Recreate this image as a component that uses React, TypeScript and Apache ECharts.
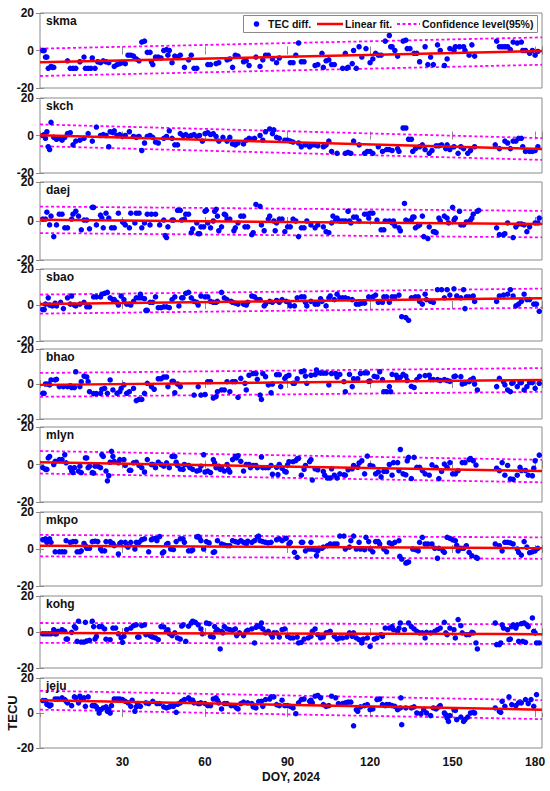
import React, { useEffect, useRef } from "react";
import * as echarts from "echarts";

const FONT = "'Liberation Sans', Arial, Helvetica, sans-serif";

const stations = ["skma", "skch", "daej", "sbao", "bhao", "mlyn", "mkpo", "kohg", "jeju"];

// [DOY, TEC difference (TECU)]
const skma = [[1,0],[1.5,0],[2,-3.5],[2.5,-3.5],[3,-9.5],[4,-8.5],[4.5,-9],[5,-9],[10,-5.5],[11,-9.5],[12,-9.5],[13,-9.5],[14.5,-6],[16,-3.5],[16.5,-9.5],[17.5,-9.5],[18.5,-9.5],[19,-4],[20,-9.5],[21,-6],[22,-6.5],[23,-5.5],[24,-6],[25,-6.5],[27,-8.5],[28,-7.5],[29,-7],[30,-6.5],[31,-7],[32,-2.5],[33,-2.5],[34,-3],[35,-4.5],[36,-5.5],[37,4.5],[38,5],[39,-1],[40,-1],[40.5,-6],[41,-7.5],[42,-3.5],[43,-3.5],[44,-4],[45,0],[46,0.5],[46.5,-2.5],[47,0],[48,-6.5],[49,-3],[50,-3.5],[51,-2.5],[52.5,-9],[54,-5],[55,-2.5],[56,-9.5],[57,-9.5],[61,-7.5],[62,-7.5],[64,-7],[65,-6.5],[68,-5],[69,-4.5],[70,-9],[71,-2.5],[72,-3],[74,-6],[75,-5.5],[76,-8],[78.5,-3.5],[80,-8.5],[81,-5],[82,-2.5],[83,-2.5],[84.5,-4.5],
  [86,-6.5],[87,-4],[91,-6.5],[92,-6.5],[93,-2.5],[94,4],[95,-6],[96,-6],[100,-8],[101,-7.5],[102.5,-1.5],[103,-9],[104,-5.5],[105,-5],[106,-7.5],[107,-7.5],[110,-9.5],[111,-1.5],[111.5,-9.5],[112,-9],[113.5,-7],[114,0],[115,-9.5],[116,2],[117,-3.5],[118.5,1],[120,-6.5],[121,-4.5],[122,-1.5],[123,-2.5],[124,-2.5],[125.5,5],[127,8],[127.5,2],[128,2],[129,0],[130,-3],[132,5],[133,5.5],[133.5,1],[134.5,1],[136,-1.5],[137,-1.5],[138,-6],[140,2],[141,-7.5],[142,-3.5],[143,-7.5],[144.5,3],[145.5,0],[147,-8],[148,-4.5],[149,1],[150.5,0],[151,2],[152.5,2],[154,2],[154.5,0],[156,-2.5],[157,3],[158,-3],[166,5],[167,2],[168,2],[169,2],[170,2],[171,0.5],[172,4.5],[173.5,4],[175,4.5],[175.5,0],[176.5,0],[178,-1.5],[179,0],[180,-2.5],[181,-0.5]];

const skch = [[1,0],[1.5,0.5],[2,-1.5],[2.5,2],[3,-6],[3.5,-7.5],[4,7],[5,-1],[6,-2],[7,-1.5],[8,-2.5],[9,-1],[10,1],[11,1.5],[12,-5],[13,-3],[14.5,-2.5],[16,-1.5],[17.5,1],[19,-3],[20.5,4.5],[22,0],[23,0.5],[24,0],[25,-6],[25.5,2],[26.5,1.5],[27,2.5],[28,0],[29,0.5],[30,-0.5],[31,0],[32.5,2],[34,-0.5],[35,-1],[36,-0.5],[37,-8],[38,-4],[39,-0.5],[40,0],[41,-1],[42,-3.5],[43,-4],[45,-1.5],[46,-0.5],[47,2.5],[48,-1.5],[49,-5],[50,-5],[51,1],[52,0],[53,0.5],[54,-0.5],[55,0],[56,0.5],[57,-0.5],[58,0],[59,-3],[60,1],[61,1.5],[62,0.5],[63,1],[64,-0.5],[65,-3],[66.5,-1],[68,-3],[69,-1],[70,-4.5],[71,-5],[72,-4],[74,-4.5],[75,-2.5],[76,-1.5],[77,-2],[78,-1.5],[80,0],[81,-2.5],[82,2],[83.5,3.5],[84.5,1],
  [85,3],[86,-1],[87,-1.5],[89,-2.5],[90,-2.5],[91,-3],[92,-3.5],[94,-4],[95,-6],[96.5,-5],[98,-6],[99,-5],[100,-5],[101,-5.5],[103,-6],[103.5,-5.5],[104,-5],[105,-3],[106,-8.5],[108,-9.5],[111,-9.5],[112,-9],[113,-9.5],[114,-3],[116,-5],[118,-9.5],[119,-8.5],[120,-8.5],[121,-9.5],[123,-6],[124.5,-8.5],[126,-7.5],[127,-7.5],[128,-8],[130,-7],[130.5,-8.5],[132,4],[133,4],[134,-2],[135,-2],[135.5,-8.5],[136.5,-7],[138,-6],[139,-5],[140,-7.5],[141.5,-9.5],[142.5,-8],[144,-5.5],[145,-5.5],[146,-5],[147.5,-7],[148,-5],[149,-7.5],[150.5,-6],[152,-9.5],[153,-6],[154,-7],[155.5,-9.5],[156.5,-8],[158,-6],[165.5,-5],[167,-7],[169,-3],[170,-4],[171,-7],[172,-3],[173,-3],[174,-1.5],[175,-1.5],[175.5,-6],[176.5,-8.5],[178,-8.5],[179,-8.5],[180,-8],[181,-6]];

const daej = [[1,1],[2,1],[2.5,4.5],[3.5,-2],[4,2.5],[5,-8],[6,-2],[7,3.5],[8,3.5],[9,-3.5],[10,-3.5],[11.5,1],[12,3.5],[13,5],[14,2.5],[15,-4.5],[16,0.5],[17,0.5],[18,-4],[19,7],[19.5,7],[20.5,-2],[22,3],[22.5,1.5],[23,-3.5],[24,4],[25,1.5],[26,-3.5],[27,-3.5],[28.5,4],[30,-0.5],[30.5,-1],[31,-2],[32.5,-3.5],[33,4],[34.5,-1],[35,4],[36,4],[37,-3.5],[38,-1],[39,3.5],[40,-2],[40.5,3.5],[42,3.5],[43.5,-2],[45,0.5],[45.5,-7.5],[46,-8.5],[46.5,-3],[48,0.5],[48.5,0.5],[50,5.5],[51,5.5],[51.5,0.5],[52.5,1],[53,3.5],[54,3.5],[55,-6],[55.5,-4],[57,-1],[57.5,-6.5],[58,-6.5],[58.5,-3],[59.5,-3],[60,5],[60.5,5.5],[61,-1],[62,-3.5],[63,0],[63.5,5],[64,6],[64.5,2.5],[65,-5],[66,-3],[67,3.5],[67.5,3],[68,1],[69,1],[70.5,-5],[71,-3.5],[72,-1],[73,2.5],[74,2.5],[74.5,-3],[75.5,-3],[77,-7],[77.5,-6],[78.5,8.5],[80,7.5],[80.5,-2],[81.5,-5],[83,1],[83.5,2.5],[85,0],
  [85.5,-5],[86,-1],[87,1],[88,1],[89,-5.5],[90,-3],[91,-3],[92,1],[93,0],[94,-8],[95,-3.5],[96,-3.5],[97,0],[98.5,-2],[100,-3.5],[101,-2],[103,-3],[104,-5.5],[105,-6],[106,-1],[106.5,2.5],[107.5,0.5],[108,1.5],[109,0],[110,0],[111,0],[112,5],[112.5,0],[113,-1],[114,2],[115,2],[116,0],[118,3.5],[119,3.5],[119.5,1.5],[120,4],[121,4],[122.5,0.5],[124,-4.5],[125,-4.5],[125.5,0],[127,0],[128,-1],[128.5,0],[129,-2.5],[130.5,-3.5],[131,-5],[132.5,9],[133,0.5],[133.5,0],[135,0.5],[135.5,2],[136,2],[136.5,-3.5],[137.5,-2.5],[138,-2],[139,2.5],[139.5,-8],[141,-9],[141.5,-3],[143,-5.5],[143.5,-5.5],[144,-6],[145,1.5],[145.5,0],[147,2.5],[148,1.5],[148.5,-1],[150,7],[150.5,0.5],[151,1.5],[152.5,5],[153,-2],[154,-2],[155,-0.5],[156.5,0.5],[157,1.5],[157.5,3.5],[159,5],[159.5,5.5],[166,-3.5],[167,-7],[168.5,-7],[169,-6.5],[170,-1],[172,-8.5],[173,-3],[174,-1.5],[175,-1.5],[176,-2],[177,-5.5],[178,-3],[180,-1],[181,-1],[181.5,1.5]];

const sbao = [[1,-2.5],[1.5,-2.5],[2,0.5],[3,4],[3.5,0],[4.5,-0.5],[5.5,1],[6,-0.5],[7.5,1.5],[8.5,-2],[10,4],[11,0.5],[11.5,5],[12.5,0],[13,-0.5],[14.5,0.5],[16,1.5],[17,-1],[18,-1],[19.5,4.5],[20.5,4.5],[22,4.5],[22.5,6],[23.5,6.5],[24.5,7],[25.5,4],[26.5,3],[27,3],[28,1.5],[28.5,0],[29.5,5],[30.5,3],[31.5,0.5],[32.5,0.5],[33,0],[34,2],[35,4],[36,4],[36.5,6],[37,4],[38,3.5],[38.5,-3],[39,-3],[40,1.5],[41,1.5],[42,4.5],[43,-1.5],[44,-1.5],[45,-1],[46,-1],[47,-1.5],[48,3],[49,4.5],[50.5,-0.5],[51.5,4],[52,4],[53,6.5],[54,7],[55,4],[56,2],[57,1.5],[57.5,0],[58.5,5],[60,4.5],[61,4.5],[62,2],[63,1.5],[64,1.5],[64.5,2],[66,7],[67,4],[68,3],[69.5,2],[70,1.5],[71,1],[72,0.5],[74,0.5],[75,0],[75.5,1.5],[77,5],[78,4.5],[79,3],[80,3],[81.5,-0.5],[82,0.5],[83.5,2],[84.5,1.5],
  [86,2.5],[87,1.5],[88,3],[89.5,2],[90.5,1.5],[91,-0.5],[92.5,-0.5],[93.5,4],[95,4.5],[96,4.5],[96.5,1.5],[97,-0.5],[98.5,2],[100,0.5],[101,0.5],[102,3.5],[102.5,2],[104,-0.5],[105,4],[105.5,5],[107,3],[108,6],[109,4],[110,4],[111,4],[112,3.5],[113.5,3],[115,0.5],[116,0.5],[117,1],[118,1],[119.5,4.5],[121,4.5],[122,5.5],[123,1.5],[124.5,1.5],[125,4.5],[126,4.5],[127,1.5],[128,4.5],[129,4.5],[130.5,5.5],[131.5,-6.5],[133,-7],[134,-8.5],[135,4],[136,4],[136.5,4.5],[137.5,4.5],[138,2],[139,0.5],[140,6],[140.5,3],[142,2],[143,1.5],[144.5,8.5],[146,8.5],[147,4],[148,8.5],[149,5.5],[150.5,9],[151.5,5],[153,4],[154,8.5],[154.5,-2],[155,4.5],[156,4.5],[157.5,5],[158,2],[166,2],[167,5],[168.5,5.5],[170,6],[171,8.5],[172,5],[173,-0.5],[174,0.5],[175,2],[176,6],[177,3],[178,3],[179.5,0.5],[180.5,0.5],[181.5,-3.5]];

const bhao = [[1,-5.3],[1.5,-5.3],[2,0],[3,0],[3.5,-0.5],[4,2.3],[5.5,2.3],[6,2.7],[7,-1.5],[8.5,-1.5],[10,-1.5],[11,-1],[11.5,-2],[12.5,-2],[13,7],[14.5,-1.5],[15,1.3],[16,4.5],[17,4],[17.5,1.3],[18,-4.4],[19.5,-5.5],[20.5,-5.5],[22,-5.3],[22.5,-3],[23.5,-2.5],[24.5,-5.3],[25.5,2.3],[26.5,-3.4],[28,-5.3],[29,-4.4],[29.5,-2.5],[30.5,-0.5],[31.5,-5.3],[32.5,-4.4],[34,-2.5],[35,-9.5],[36,-8.8],[37,-8.8],[38,-5.3],[39,0.4],[40.5,-1.5],[41.5,-3],[43,3],[44,3],[45,4],[46,4],[46.5,-1.5],[48,1.5],[48.5,1.5],[49,-5],[50,0],[51,-1.5],[56,-6.3],[57.5,-1.5],[58.5,-6.3],[60,-6],[61,1.3],[62,1.3],[63,-8],[64,-7.2],[64.5,-4.4],[66,-3.4],[67,-3.4],[68,1.3],[69,-4.4],[70,1.3],[71,1.3],[72,-7.6],[73,3.2],[74.5,0.4],[75,-3.4],[76,5],[77.5,6],[78.5,6],[79,2.7],[80,-6.3],[80.5,-8.8],[81,6],[82,4.2],[83,-0.5],[84,-5],[84.5,0],
  [86,5.3],[87,5.3],[87.5,-1.5],[89,3.2],[89.5,4.2],[90.5,5],[92,0.4],[92.5,0.4],[93.5,3],[95,7],[96,7.5],[96.5,4.5],[97,0.4],[98.5,5],[100,5.3],[100.5,8],[101,6.5],[102,6.2],[103,6.2],[104,6.2],[105,-0.5],[106,6],[107.5,6],[108,4],[109,5.5],[110.5,1.3],[111,-4.4],[112.5,5.5],[113.5,-1.5],[114,3],[115.5,3],[116.5,6],[118,6.3],[119,6.3],[119.5,1.5],[120,1.7],[121.5,4.4],[122.5,4],[123.5,7],[124.5,2.5],[125,-4.4],[126,-4.4],[127,-1.5],[127.5,-4.4],[128,5.5],[129.5,5],[130,3],[131,3.8],[132,5.5],[133,4.5],[133.5,2],[135,-1.3],[136,-2],[137,2.5],[138,4.4],[140,4.8],[141.5,5],[142,2.5],[143,2.5],[144.5,2.5],[145.5,2],[147,2.5],[148,2],[149,1.5],[150.5,4.2],[151,4.5],[153,4.2],[153.5,0],[154.5,0.5],[156,1.3],[156.5,2.3],[157.5,3.2],[158,0],[159,-3.4],[166,-1.5],[167,3.2],[168.5,1.3],[169,-0.5],[170,-3.4],[171,-4.4],[171.5,0.4],[172,0.8],[173.5,-1.5],[174.5,0.8],[175,0.8],[176,-3.4],[177,-1.5],[178,0.8],[179,0.8],[180,-2.5],[181.5,0.4]];

const mlyn = [[1,-1.7],[2,-2.6],[2.5,-2.6],[3,3.5],[3.5,4.3],[5,0],[5.5,1.7],[7,2.6],[8,2.6],[9,5.2],[9.5,0.9],[11,-1.7],[11.5,-3.5],[12,-4.3],[12.5,-1.7],[14,-3.5],[14.5,-0.9],[15,-4.3],[16.5,3.5],[17,3.5],[17.5,-1.7],[18,-0.9],[19,-4.3],[19.5,-4.6],[20,-0.9],[21,-0.9],[22,-1.7],[22.5,5.2],[23,4.3],[24,-3.5],[24.5,-8.7],[25,-6],[25.5,1.2],[26,7],[26.5,4.3],[27,1.7],[28.5,0.9],[29,2.6],[30.5,2.6],[31,-0.5],[32.5,-3.1],[33,-3.1],[34,0.9],[35,1.2],[36,-0.5],[37,-1.7],[38,-4],[39,2.6],[40.5,0],[41,0],[42,-1.7],[43,1.2],[44,0],[45,-0.9],[46,0.9],[47,-1.7],[48,4.3],[49,4.3],[49.5,1.2],[50,-0.5],[51,-2.4],[52,-2.6],[52.5,0],[54,-0.5],[54.5,-1.7],[55.5,-2.6],[57,-3.5],[58,-3],[58.5,-0.9],[59.5,5.2],[60,-4],[61,-3.5],[62,-4.3],[63,2.6],[63.5,0.9],[64,-1.7],[65,-0.9],[65.5,-2.6],[66,-1.7],[67,-3.5],[68,0],[68.5,-2.6],[69,-4],[70,2.6],[71,4.3],[71.5,3.5],[72,4.7],[73,1.7],[74,-3.5],[75,0],[76,0],[76.5,-1.7],[77.5,-0.5],[78.5,-0.5],[79,-1.7],[80.5,4],[81,-1.7],[82,-1.7],[83,-1.7],[84,-0.5],[84.5,-5.2],
  [86,-1.5],[86.5,-5.4],[87,0],[88,-2],[89,-3.7],[89.5,-4],[90,-0.2],[90.5,1.5],[92,1.5],[93,2.1],[93.5,3],[94,3.3],[95,-5.7],[96,-2.6],[96.5,-0.5],[98,1.5],[98.5,2.6],[99,-8.3],[100,-2.3],[101,-2.8],[103,-3.7],[103.5,-5.7],[104.5,-7.2],[105.5,-7.2],[106,-2.3],[107,-5.7],[108,-7.2],[109,-5],[110.5,-5.5],[111,-5.7],[112,-2.8],[113.5,-2.3],[114,-0.5],[115.5,-1.5],[116,0.8],[117,2],[118,-5],[119,4.5],[120,-0.5],[121,-0.9],[122,-5],[123,-4],[124,-6.6],[125,-3.7],[126,-3.7],[127,0],[128,-5.7],[128.5,1],[130,1],[130.5,-3.3],[131,8],[132,-5],[133,-5.5],[133.5,2],[134,3.8],[135,-7.5],[136,3.8],[137,-1.5],[138,-1.5],[139,-3.2],[140,-5],[141.5,-5.7],[142.5,-0.2],[144,-1.5],[145,-7.5],[146,-3.7],[147,0.2],[148,-1.5],[149,1],[150,-5],[151,-5],[152,-3.3],[153.5,1],[154.5,1],[156,2.6],[156.5,3.2],[157.5,2],[158.5,-0.3],[166,-2],[167,-3.3],[168,1],[169,-5.7],[170,-0.5],[171,-7.7],[172,-7.9],[173.5,-5.7],[174.5,-1.5],[175,-3.2],[176.5,-3.2],[177.5,-5.7],[179,-6],[179.5,-2],[180,2],[181.5,5]];

const mkpo = [[1,5],[2,5.5],[2.5,3.6],[3,5],[3.5,5.5],[4,3.6],[5.5,-1.5],[7,-1.5],[8,-1.5],[9,-1.5],[9.5,4.5],[11,3.6],[12,4],[13,4],[13.5,-1.5],[14.5,-1.5],[15,-1],[16,3],[16.5,1.8],[17,0.4],[18,0.4],[19,4],[20,4.2],[21,4],[22,0],[22.5,-1],[23.5,-1],[24,4],[25.5,4],[26,3],[26.5,3],[27,1.8],[28.5,-2.7],[29,3],[29.5,3.6],[31,3.6],[31.5,1.8],[32,1],[33,3.6],[34.5,0],[35,3.6],[36,3.6],[37,5],[38,5.5],[39.5,-1.5],[40.5,5],[41,5.5],[42,5.8],[42.5,4.5],[43.5,6.7],[44.5,-2.2],[45,-1.5],[46,2.5],[46.5,3],[47.5,0],[48.5,-0.3],[49.5,4],[51,5.5],[52,5.5],[52.5,3.6],[54,-1],[55,-1],[55.5,-0.5],[57,6.5],[57.5,6.8],[58,6],[58.5,4.5],[59.5,0],[60.5,4],[61.5,3.3],[63,-1.8],[63.5,-1.5],[64.5,4.5],[66,2.7],[67,2.2],[68,1.8],[69,1.8],[70,4.5],[71,4],[72,3.6],[73,4.5],[74,3.6],[75,2.7],[75.5,4.2],[77,3.6],[78,4.5],[79,6.5],[79.5,7],[80,4.5],[81,4],[82,3.6],[83,3.3],[84,3.6],
  [86,5],[87,5.5],[88,4.5],[89,5.5],[89.5,5.8],[90.5,2.7],[91,3.6],[92.5,-1.8],[93.5,-4.5],[95,3.6],[95.5,3.6],[96.5,-1],[98,0],[98.5,3.6],[99,0],[100,-0.4],[100.5,-3.6],[101,-1],[101.5,0.4],[102.5,0.4],[103,1],[104.5,1.8],[105.5,2.7],[107,2.7],[108,2.7],[109,7],[110.5,7],[111,0],[112.5,1],[113,4.5],[114,7],[115,0],[116,3.6],[116.5,0],[118,-0.4],[118.5,6.3],[119.5,4],[120,0],[121,-1.5],[122,4],[123,4],[123.5,2.7],[125,0],[126,-1.5],[127,3.3],[128,2.7],[129,3.6],[130.5,4.5],[130.8,-4],[131.5,-5.5],[133,-7.6],[133.5,-7.3],[134,-7],[135.5,0],[136.5,-0.4],[137.5,-1],[138,3.6],[139,6.3],[140,2.7],[141,2.7],[142.5,2.7],[143.5,0.4],[144.5,-5],[145,0.4],[146.5,-1],[147,-1.8],[148,6.3],[149,5.8],[150,5],[151,4.5],[151.5,2],[152,-1],[153,0.4],[154,0.4],[155,1.8],[156,-1.8],[157,-3.6],[158.5,-4.5],[159,-5],[165.5,2.7],[167,1.8],[168,-1],[169,3.6],[170,3.6],[171,3.3],[172,2.7],[173.5,0],[174,-1.8],[175,-3.3],[176,4],[177,1],[178,-2],[179,-1.5],[180,-1],[181,0.4]];

const kohg = [[1,-1],[2,-1],[3,-1],[4,-1],[5,1.3],[5.5,-1],[6,-1],[6.5,0.4],[8,1.3],[9,0.4],[9.5,-3.9],[10,-3.9],[11.5,-0.2],[12.5,3],[13,2.2],[13.5,-5.2],[14,6],[15,-5.6],[16,-5.6],[16.5,5.4],[17,-5],[18,-4.6],[19,6],[19.5,3],[20,-3.9],[20.5,-2.5],[21.5,3],[22.5,3],[23.5,1.7],[24,-4],[25.5,-4.3],[26.5,2.2],[27.5,2.2],[28.5,-1],[29.5,-3.3],[30,-5.7],[30.5,-2.4],[31.5,1.3],[33,2.2],[34,3.5],[35,4],[35.5,-2.8],[36,-2.8],[37,3.5],[38,4],[38.5,-1.5],[40,-2],[40.5,-2.4],[41,-2.8],[42,-3.3],[43,-4.3],[44,3],[45,2.8],[46,0.4],[46.5,1.3],[47,-0.9],[48,-2],[49,-0.5],[50,-3.3],[51,-3.9],[51.5,3.3],[52,4],[53,-5.2],[54,3.2],[55,5],[55.5,6],[56.5,5.4],[57.5,4],[58.5,1.7],[59,-1],[60.5,5],[61.5,4.6],[62,-2.4],[63,-2.8],[63.5,3],[64,0.4],[64.5,1.3],[65.5,-9.4],[66,0.4],[66.5,-0.5],[67,3],[68,1.7],[69,1.3],[70,0.9],[71,1.7],[71.5,-2],[72.5,-0.5],[74,-2],[75,0.4],[75.5,0.9],[77,1.7],[78,-6.1],[78.5,2.6],[79,3.5],[80,3],[80.5,5],[81,1.7],[82,-0.5],[83,0.4],[84,-1.5],[84.5,-2.8],
  [85,-0.5],[86,-0.5],[87,-2.8],[88,1.3],[89,1.7],[90,-2.4],[91,-3.3],[92,-3.3],[93.5,-2.8],[94,-6.1],[95,-5.7],[96,-3.9],[97.5,-3.3],[98.5,-2.4],[99,0.4],[100,1.7],[101,-1.5],[102,-3.3],[103,-2.8],[104,-0.5],[105,-0.2],[105.5,0.4],[107,-2.4],[108,-3.9],[109,-3.3],[110,-3.3],[111.5,-2.8],[112.5,-0.5],[113.5,-2.4],[114,-0.5],[115,-3.3],[116,-4.3],[117,-6.1],[117.5,-3.9],[119,-3.3],[120,-8],[121.5,-3.9],[122.5,-3.3],[124,-1.5],[124.5,-2.4],[125.5,2.2],[127,2.2],[128,3],[128.5,1.3],[130,0.4],[130.5,2.2],[131,5],[132.5,1.3],[134,5],[135,3],[136,1.7],[137,0.4],[138,-0.5],[139,-0.5],[140,-3.3],[140.5,-0.2],[142,-0.5],[143.5,0.4],[144.5,1.3],[145.5,2.2],[147,5.4],[147.5,-0.5],[148,-1.5],[149,2.2],[150.5,1.3],[151,-3.3],[152,6.9],[153,3.5],[153.5,-0.5],[155,-1.5],[156,-1.5],[157,-0.2],[157.5,-0.5],[158.5,-6.1],[159,-9.4],[165.5,5],[166,-7],[167,-7],[167.5,-6.1],[168,4],[168.5,2.2],[170,1.3],[170.5,-4.3],[171,-3.9],[171.5,3],[172,4],[173,2.2],[173.5,4],[174,-5.2],[175,4.6],[175.5,-5.2],[176,5],[176.5,-5.7],[177,4],[177.5,3],[179,7.8],[179.5,0.4],[180,-0.5],[180.5,-6.1],[181.5,-6.1]];

const jeju = [[1,7.1],[2,7.1],[2.5,5],[3,4.6],[3.5,4],[4,4.6],[5.5,8],[6.5,8],[8,8.7],[9,7.7],[9.5,6.7],[10,5.8],[11.5,4.2],[12.5,9.2],[13,8.7],[14,5.8],[14.5,9.6],[15,7.7],[16,8.7],[16.5,3.8],[17.5,9.2],[19,4.2],[19.5,4.2],[20,4.2],[20.5,3.5],[21,2.3],[21.5,0],[22,1.9],[23,2.9],[24,3.5],[24.5,1],[25,1.9],[25.5,0],[26,4.2],[27,8],[28,8],[29,8],[30,7.7],[31,6.7],[32,5.8],[33,3.8],[33.5,7.3],[34.5,1],[35,3.5],[35.5,5.4],[36.5,3.8],[38.5,5.8],[39.5,5.4],[41,6.7],[42.5,5.4],[43.5,5.4],[45,3.5],[46,2.9],[47,3.5],[48,4.2],[48.5,3.8],[49.5,0.4],[50,5],[51,5.8],[51.5,6.7],[52.5,7.7],[54,8.7],[54.5,7.7],[55.5,7.3],[56,5.8],[57.5,5.4],[58,5.4],[58.5,5.8],[60,5.4],[61,4.2],[62,4.2],[63,8],[64,8.7],[64.5,7.3],[65,5.8],[66,2.3],[67,5.4],[68,5.4],[69.5,4.2],[70.5,4.2],[71.5,2.9],[72,2.3],[73,5.4],[74,6.2],[75.5,5.8],[77,5.4],[77.5,3.5],[78.5,2.9],[79.5,6.5],[80.5,6.7],[81,3.8],[82,7.7],[83.5,8],[84,9.2],[85,9.2],
  [86,4.8],[87,4.2],[88,7.3],[89,4.2],[90,4.2],[91,3.8],[92,2.9],[93,-0.4],[94,5.8],[95,7.7],[96,8],[98,6.7],[98.5,7.3],[99,5.8],[100,9.6],[101,10],[102,8.7],[103,4.8],[104,3.8],[105,4.2],[106,9.6],[107.5,8.7],[108.5,5.4],[110,5.4],[111,5.8],[112,6.2],[113,6.2],[114,-7.3],[115,1.9],[115.5,1],[116.5,3.5],[118,4.2],[119,4.8],[120,1.9],[121,2.3],[122.5,7.7],[123.5,8],[124.5,4.8],[125.5,4.2],[126,4.8],[127,4.8],[128,4.2],[129,3.8],[130,1.9],[131,2.9],[131.2,8.7],[131.5,-6.7],[133,2.9],[135,2.9],[136,3.5],[137,0],[138.5,-0.4],[139.5,1.9],[140.5,0],[142,-1.5],[143,2.9],[144,2.3],[145,3.5],[145.5,4.2],[147,0],[147.5,-1],[148,-2.9],[148.5,-4.8],[149,-1.5],[150.5,1.9],[151,1.5],[151.5,-3.8],[153,-2.3],[154,-4.8],[154.5,-3.8],[155.5,-2.3],[156.5,0],[157.5,0.4],[158,0],[165.5,2.9],[167,1],[167.5,0.4],[168,6.7],[169,3.8],[170.5,9.2],[171.5,4.8],[173,4.2],[174,5.8],[175,5.8],[176.5,7.7],[177.5,5.4],[178.5,7.7],[179.5,3.8],[180.5,10.5]];

const stationData = [skma, skch, daej, sbao, bhao, mlyn, mkpo, kohg, jeju];

// linear fit values at the left (DOY 0) and right (DOY 182.5) edges, and 95% band half-width
const fitStart = [-6.3, 0.1, 0.6, 0.5, -0.5, 1.2, 1.8, -0.5, 7.3];
const fitEnd = [-0.3, -7.2, -1.6, 3.8, 2.3, -3.5, 0.5, -1.2, 1.9];
const confHalf = [7.3, 5.8, 6.8, 5.3, 6.8, 6.0, 5.8, 5.5, 5.4];

const X_MIN = 0;
const X_MAX = 182.5;
const xTickLabels = [30, 60, 90, 120, 150, 180];
const yTickLabels = [-20, 0, 20];

// layout
const panelTop = [13, 98, 182, 269, 349, 427, 512, 596, 678];
const panelHeight = [75, 75, 78, 72, 70, 75, 74, 72, 70];
const PLOT_LEFT = 40;
const PLOT_WIDTH = 502;

const AXIS_GRAY = "#8a8a8a";
const TEXT = "#111111";
const BLUE = "#0000ff";
const RED = "#ff0000";
const MAGENTA = "#ff00ff";

function buildOption() {
  const n = stations.length;
  const grid = stations.map((_, i) => ({
    left: PLOT_LEFT,
    width: PLOT_WIDTH,
    top: panelTop[i],
    height: panelHeight[i],
    show: true,
    borderColor: AXIS_GRAY,
    borderWidth: 1,
    backgroundColor: "#ffffff",
  }));

  const tick = { show: true, inside: true, length: 4, lineStyle: { color: AXIS_GRAY } };

  const xBottom = stations.map((_, i) => ({
    type: "value",
    gridIndex: i,
    position: "bottom",
    min: X_MIN,
    max: X_MAX,
    interval: 30,
    axisLine: { show: false },
    axisTick: tick,
    splitLine: { show: false },
    axisLabel: {
      show: i === n - 1,
      showMinLabel: false,
      showMaxLabel: false,
      margin: 8,
      fontSize: 12,
      fontWeight: "bold",
      fontFamily: FONT,
      color: TEXT,
      formatter: (v: number) => (xTickLabels.indexOf(v) >= 0 ? String(v) : ""),
    },
  }));
  const xTop = stations.map((_, i) => ({
    type: "value",
    gridIndex: i,
    position: "top",
    min: X_MIN,
    max: X_MAX,
    interval: 30,
    axisLine: { show: false },
    axisTick: tick,
    splitLine: { show: false },
    axisLabel: { show: false },
  }));
  const yLeft = stations.map((_, i) => ({
    type: "value",
    gridIndex: i,
    position: "left",
    min: -20,
    max: 20,
    interval: 20,
    axisLine: { show: false },
    axisTick: tick,
    splitLine: { show: false },
    axisLabel: {
      show: true,
      margin: 6,
      fontSize: 12,
      fontWeight: "bold",
      fontFamily: FONT,
      color: TEXT,
      formatter: (v: number) => (yTickLabels.indexOf(v) >= 0 ? String(v) : ""),
    },
  }));
  const yRight = stations.map((_, i) => ({
    type: "value",
    gridIndex: i,
    position: "right",
    min: -20,
    max: 20,
    interval: 20,
    axisLine: { show: false },
    axisTick: tick,
    splitLine: { show: false },
    axisLabel: { show: false },
  }));

  const confStyle = { color: MAGENTA, width: 1.8, type: [3, 2.5] as number[] };

  const series: any[] = [];
  stations.forEach((s, i) => {
    const a = fitStart[i];
    const b = fitEnd[i];
    const h = confHalf[i];
    series.push({
      name: "Confidence level(95%)",
      type: "line",
      xAxisIndex: i,
      yAxisIndex: i,
      color: MAGENTA,
      data: [[X_MIN, a + h], [X_MAX, b + h]],
      showSymbol: false,
      symbol: "none",
      lineStyle: confStyle,
      z: 2,
    });
    series.push({
      name: "Confidence level(95%)",
      type: "line",
      xAxisIndex: i,
      yAxisIndex: i,
      color: MAGENTA,
      data: [[X_MIN, a - h], [X_MAX, b - h]],
      showSymbol: false,
      symbol: "none",
      lineStyle: confStyle,
      z: 2,
    });
    series.push({
      name: "TEC diff.",
      type: "scatter",
      xAxisIndex: i,
      yAxisIndex: i,
      data: stationData[i],
      symbol: "circle",
      symbolSize: 5.5,
      itemStyle: { color: BLUE, opacity: 1 },
      z: 3,
    });
    series.push({
      name: "Linear fit.",
      type: "line",
      xAxisIndex: i,
      yAxisIndex: i,
      color: RED,
      data: [[X_MIN, a], [X_MAX, b]],
      showSymbol: false,
      symbol: "none",
      lineStyle: { color: RED, width: 2.5 },
      z: 4,
    });
  });

  const stationLabels = stations.map((s, i) => ({
    type: "text",
    x: PLOT_LEFT + 6,
    y: panelTop[i] + 2,
    z: 10,
    style: {
      text: s,
      font: `bold 12px ${FONT}`,
      fill: TEXT,
      align: "left",
      verticalAlign: "top",
      textAlign: "left",
      textVerticalAlign: "top",
    },
  }));

  const LY = 24;
  const legendTextStyle = (text: string) => ({
    text,
    font: `bold 10.5px ${FONT}`,
    fill: TEXT,
    align: "left",
    verticalAlign: "middle",
    textAlign: "left",
    textVerticalAlign: "middle",
  });
  const legend = [
    { type: "rect", shape: { x: 243.5, y: 15.5, width: 294, height: 17 }, style: { fill: "#ffffff", stroke: AXIS_GRAY, lineWidth: 1 }, z: 20 },
    { type: "circle", shape: { cx: 256.5, cy: LY, r: 2.8 }, style: { fill: BLUE }, z: 21 },
    { type: "text", x: 268, y: LY, z: 21, style: legendTextStyle("TEC diff.") },
    { type: "line", shape: { x1: 317, y1: LY, x2: 343, y2: LY }, style: { stroke: RED, lineWidth: 2.5 }, z: 21 },
    { type: "text", x: 345, y: LY, z: 21, style: legendTextStyle("Linear fit.") },
    { type: "line", shape: { x1: 397, y1: LY, x2: 420, y2: LY }, style: { stroke: MAGENTA, lineWidth: 1.8, lineDash: [3, 2.5] }, z: 21 },
    { type: "text", x: 422, y: LY, z: 21, style: legendTextStyle("Confidence level(95%)") },
  ];

  const titles = [
    { type: "text", x: 291, y: 777, z: 10, style: { text: "DOY, 2024", font: `bold 12px ${FONT}`, fill: TEXT, align: "center", verticalAlign: "middle", textAlign: "center", textVerticalAlign: "middle" } },
    { type: "text", x: 12, y: 713, rotation: Math.PI / 2, z: 10, style: { text: "TECU", font: `bold 13px ${FONT}`, fill: TEXT, align: "center", verticalAlign: "middle", textAlign: "center", textVerticalAlign: "middle" } },
  ];

  return {
    animation: false,
    backgroundColor: "#ffffff",
    textStyle: { fontFamily: FONT },
    grid,
    xAxis: [...xBottom, ...xTop],
    yAxis: [...yLeft, ...yRight],
    series,
    graphic: { elements: [...stationLabels, ...legend, ...titles] },
  };
}

export default function App() {
  const ref = useRef<HTMLDivElement>(null);
  useEffect(() => {
    if (!ref.current) return;
    const chart = echarts.init(ref.current, undefined, { renderer: "svg" });
    chart.setOption(buildOption() as any);
    return () => {
      chart.dispose();
    };
  }, []);
  return (
    <div
      ref={ref}
      style={{ position: "fixed", left: 0, top: 0, width: 550, height: 791, background: "#fff" }}
    />
  );
}
